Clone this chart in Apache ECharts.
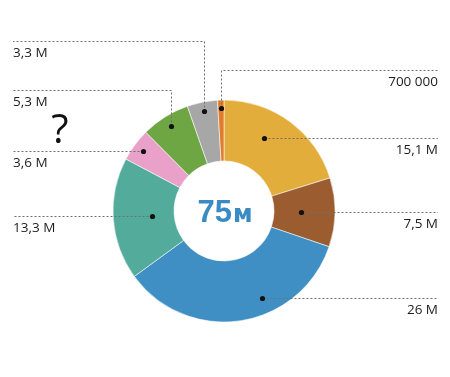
<!DOCTYPE html>
<html>
<head>
<meta charset="utf-8">
<script src="https://cdn.jsdelivr.net/npm/echarts@6/dist/echarts.min.js"></script>
<style>
  html, body { margin: 0; padding: 0; background: #fff; }
  #chart { width: 450px; height: 377px; }
</style>
</head>
<body>
<div id="chart"></div>
<script>
// slices, clockwise from the top
const labels = ['15,1 M', '7,5 M', '26 M', '13,3 M', '3,6 M', '5,3 M', '3,3 M', '700 000'];
const values = [15.1, 7.5, 26, 13.3, 3.6, 5.3, 3.3, 0.7];
const colors = ['#e3ad3b', '#9b5d30', '#3f8fc5', '#52ab9b', '#e9a1c9', '#6ea643', '#a7a7a7', '#e07d2d'];
const totalText = '75';
const totalUnit = 'м';

// where the dot sits inside its slice (share of the sweep, share of the outer radius)
const anchorSweep = [0.4, 0.5, 0.38, 0.5, 0.5, 0.5, 0.5, 0.5];
const anchorRadius = [0.75, 0.69, 0.86, 0.65, 0.91, 0.9, 0.92, 0.93];
// leader routing: label side and elbow height (null = goes straight out)
const leaderSide = ['right', 'right', 'right', 'left', 'left', 'left', 'left', 'right'];
const leaderElbow = [null, null, null, null, null, 90, 41, 70];

const LEFT_X = 13;
const RIGHT_X = 438;
const CX = 224;
const CY = 211;

const chart = echarts.init(document.getElementById('chart'));

chart.setOption({
  backgroundColor: '#fff',
  animation: false,
  series: [
    {
      type: 'pie',
      center: [CX, CY],
      radius: [50, 111],
      startAngle: 90,
      clockwise: true,
      label: { show: false },
      labelLine: { show: false },
      emphasis: { disabled: true },
      itemStyle: {
        borderColor: 'rgba(255,255,255,0.55)',
        borderWidth: 1,
      },
      data: values.map((v, i) => ({
        value: v,
        name: labels[i],
        itemStyle: { color: colors[i] },
      })),
    },
  ],
});

function getLayouts() {
  try {
    const data = chart.getModel().getSeriesByIndex(0).getData();
    return values.map((_, i) => data.getItemLayout(i));
  } catch (e) {
    // fallback if the model is not reachable
    const total = values.reduce((a, b) => a + b, 0);
    let a = -Math.PI / 2;
    return values.map((v) => {
      const s = a;
      a += (v / total) * Math.PI * 2;
      return { cx: CX, cy: CY, r: 111, r0: 50, startAngle: s, endAngle: a };
    });
  }
}

const layouts = getLayouts();
const graphics = [];

layouts.forEach((l, i) => {
  const ang = l.startAngle + (l.endAngle - l.startAngle) * anchorSweep[i];
  const rr = l.r * anchorRadius[i];
  const px = Math.round(l.cx + rr * Math.cos(ang)) + 0.5;
  const py = Math.round(l.cy + rr * Math.sin(ang)) + 0.5;
  const endX = leaderSide[i] === 'right' ? RIGHT_X : LEFT_X;
  const lineY = leaderElbow[i] == null ? py : leaderElbow[i] + 0.5;

  const pts = [[px, py]];
  if (leaderElbow[i] != null) pts.push([px, lineY]);
  pts.push([endX, lineY]);

  graphics.push({
    type: 'polyline',
    shape: { points: pts },
    style: { stroke: '#707070', lineWidth: 1, lineDash: [2, 2], fill: null },
    z: 10,
  });
  graphics.push({
    type: 'circle',
    shape: { cx: px, cy: py, r: 2.6 },
    style: { fill: '#111' },
    z: 11,
  });
  graphics.push({
    type: 'text',
    x: endX,
    y: lineY + 5,
    style: {
      text: labels[i],
      fill: '#1c1c1c',
      font: '13.5px "Open Sans", sans-serif',
      align: leaderSide[i] === 'right' ? 'right' : 'left',
      verticalAlign: 'top',
    },
    z: 11,
  });
});

graphics.push({
  type: 'text',
  x: 60,
  y: 132,
  style: {
    text: '?',
    fill: '#111',
    font: '40px "Open Sans", sans-serif',
    align: 'center',
    verticalAlign: 'middle',
  },
});

graphics.push({
  type: 'text',
  x: CX + 1,
  y: CY + 2,
  style: {
    text: '{a|' + totalText + '}{b|' + totalUnit + '}',
    align: 'center',
    verticalAlign: 'middle',
    rich: {
      a: { fontSize: 31, fontWeight: 'bold', fontFamily: '"Liberation Sans", Arial, sans-serif', fill: '#3a8ac4', color: '#3a8ac4' },
      b: { fontSize: 24, fontWeight: 'bold', fontFamily: '"DejaVu Sans", sans-serif', fill: '#3a8ac4', color: '#3a8ac4', padding: [6, 0, 0, 1] },
    },
  },
  z: 12,
});

chart.setOption({ graphic: graphics });
</script>
</body>
</html>
